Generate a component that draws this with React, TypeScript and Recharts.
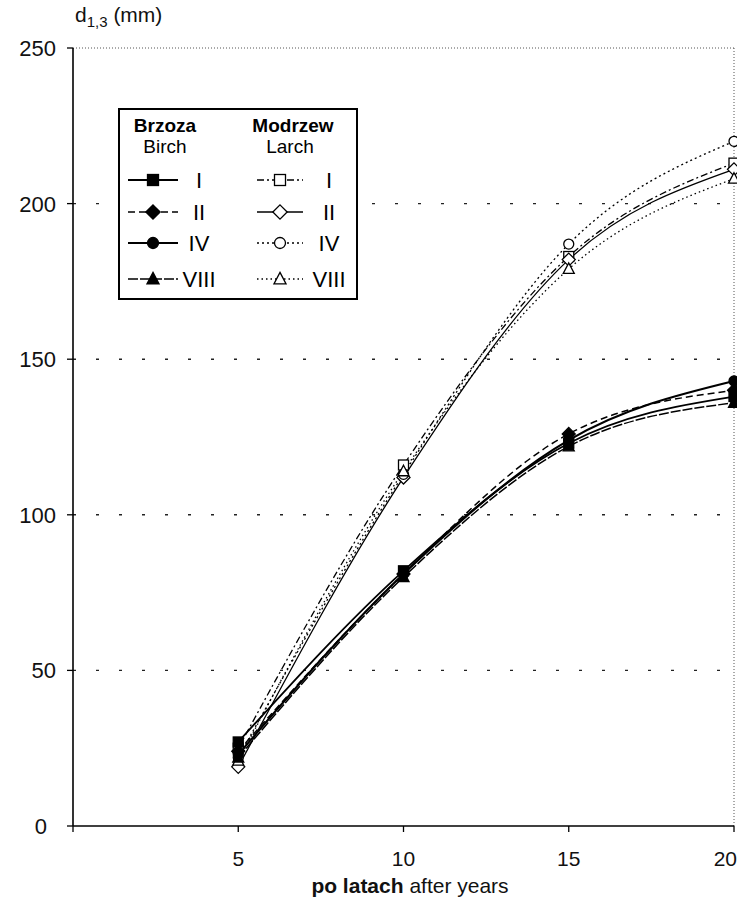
import React from 'react';
import {
  LineChart, Line, XAxis, YAxis, ReferenceLine, Legend,
} from 'recharts';

// d1,3 (mm) after years — birch vs larch, four variants each
const years = [5, 10, 15, 20];
const birchI = [27, 82, 123, 138];
const birchII = [24, 81, 126, 140];
const birchIV = [23, 81, 124, 143];
const birchVIII = [22, 80, 122, 136];
const larchI = [25, 116, 183, 213];
const larchII = [19, 112, 182, 211];
const larchIV = [22, 113, 187, 220];
const larchVIII = [21, 114, 179, 208];

const variantLabels = ['I', 'II', 'IV', 'VIII'];
const yTicks = [0, 50, 100, 150, 200, 250];
const xTicks = [0, 5, 10, 15, 20];
const gridValues = [50, 100, 150, 200];

const FONT = '"Liberation Sans Narrow", "Liberation Sans", Arial, sans-serif';

type Shape = 'square' | 'diamond' | 'circle' | 'triangle';

const shapes: Shape[] = ['square', 'diamond', 'circle', 'triangle'];

const birchStyle = [
  { dash: undefined, width: 1.8 },
  { dash: '7 4', width: 1.5 },
  { dash: undefined, width: 2.2 },
  { dash: '10 2', width: 1.5 },
];
const larchStyle = [
  { dash: '7 3 2 3', width: 1.3 },
  { dash: undefined, width: 1.3 },
  { dash: '2 3', width: 1.3 },
  { dash: '1.5 3', width: 1.3 },
];

const data = years.map((year, i) => ({
  year,
  bI: birchI[i], bII: birchII[i], bIV: birchIV[i], bVIII: birchVIII[i],
  lI: larchI[i], lII: larchII[i], lIV: larchIV[i], lVIII: larchVIII[i],
}));

const birchKeys = ['bI', 'bII', 'bIV', 'bVIII'];
const larchKeys = ['lI', 'lII', 'lIV', 'lVIII'];

function Marker({ cx, cy, shape, filled, size = 10 }: { cx: number; cy: number; shape: Shape; filled: boolean; size?: number }) {
  const fill = filled ? '#000' : '#fff';
  const common = { fill, stroke: '#000', strokeWidth: 1.3 };
  const s = size;
  if (shape === 'square') {
    return <rect x={cx - s / 2} y={cy - s / 2} width={s} height={s} {...common} />;
  }
  if (shape === 'diamond') {
    const d = s * 0.65;
    return <polygon points={`${cx},${cy - d} ${cx + d},${cy} ${cx},${cy + d} ${cx - d},${cy}`} {...common} />;
  }
  if (shape === 'circle') {
    return <circle cx={cx} cy={cy} r={s / 2} {...common} />;
  }
  return (
    <polygon
      points={`${cx},${cy - s * 0.6} ${cx + s * 0.55},${cy + s * 0.45} ${cx - s * 0.55},${cy + s * 0.45}`}
      {...common}
    />
  );
}

const makeDot = (shape: Shape, filled: boolean) => (p: any) => (
  <Marker key={p.key ?? `${p.cx}-${p.cy}`} cx={p.cx} cy={p.cy} shape={shape} filled={filled} />
);

const YTick = ({ y, payload }: any) => (
  <text
    x={payload.value === 0 ? 47 : 56}
    y={y}
    dy={8}
    textAnchor="end"
    fontFamily={FONT}
    fontSize={22}
    fill="#111"
  >
    {payload.value}
  </text>
);

// last label sits flush against the right edge, as in the scan
const XTick = ({ x, payload }: any) => {
  if (payload.value === 0) return null;
  const last = payload.value === 20;
  return (
    <text
      x={last ? 737 : x}
      y={866}
      textAnchor={last ? 'end' : 'middle'}
      fontFamily={FONT}
      fontSize={21}
      fill="#111"
    >
      {payload.value}
    </text>
  );
};

const rowY = [72, 104, 135, 171];

const LegendBox = () => (
  <svg width={240} height={192} style={{ display: 'block' }}>
    <rect x={1} y={1} width={238} height={190} fill="#fff" stroke="#000" strokeWidth={2} />
    <g fontFamily={FONT} fill="#000" textAnchor="middle" fontSize={19}>
      <text x={47} y={24} fontWeight="bold">Brzoza</text>
      <text x={47} y={45}>Birch</text>
      <text x={175} y={24} fontWeight="bold">Modrzew</text>
      <text x={172} y={45}>Larch</text>
    </g>
    {variantLabels.map((label, i) => (
      <g key={label}>
        <line x1={10} x2={60} y1={rowY[i]} y2={rowY[i]} stroke="#000"
          strokeWidth={birchStyle[i].width} strokeDasharray={birchStyle[i].dash} />
        <Marker cx={35} cy={rowY[i]} shape={shapes[i]} filled size={11} />
        <text x={81} y={rowY[i] + 8} fontFamily={FONT} fontSize={22} textAnchor="middle">{label}</text>
        <line x1={139} x2={185} y1={rowY[i]} y2={rowY[i]} stroke="#000"
          strokeWidth={larchStyle[i].width} strokeDasharray={larchStyle[i].dash} />
        <Marker cx={162} cy={rowY[i]} shape={shapes[i]} filled={false} size={11} />
        <text x={211} y={rowY[i] + 8} fontFamily={FONT} fontSize={22} textAnchor="middle">{label}</text>
      </g>
    ))}
  </svg>
);

const XLabel = () => (
  <text x={410} y={893} textAnchor="middle" fontFamily={FONT} fontSize={21} fill="#111">
    <tspan fontWeight="bold">po latach</tspan>
    <tspan> after years</tspan>
  </text>
);

const YLabel = () => (
  <text x={75} y={22} fontFamily={FONT} fontSize={21} fill="#111">
    d<tspan fontSize={15} dy={5}>1,3</tspan>
    <tspan dy={-5}> (mm)</tspan>
  </text>
);

export default function App() {
  return (
    <div style={{ position: 'absolute', left: 0, top: 0, width: 737, height: 899, background: '#fff', overflow: 'hidden' }}>
      <LineChart width={737} height={899} data={data} margin={{ top: 48, right: 3, bottom: 0, left: 0 }}>
        <XAxis
          dataKey="year"
          type="number"
          domain={[0, 20]}
          ticks={xTicks}
          interval={0}
          tickSize={6}
          height={73}
          tick={<XTick />}
          axisLine={{ stroke: '#000', strokeWidth: 1.6 }}
          tickLine={{ stroke: '#000', strokeWidth: 1.3 }}
          label={<XLabel />}
        />
        <YAxis
          type="number"
          domain={[0, 250]}
          ticks={yTicks}
          interval={0}
          tickSize={6}
          width={73}
          tick={<YTick />}
          axisLine={{ stroke: '#000', strokeWidth: 1.6 }}
          tickLine={{ stroke: '#000', strokeWidth: 1.3 }}
          label={<YLabel />}
        />
        {gridValues.map((v) => (
          <ReferenceLine key={v} y={v} stroke="#222" strokeWidth={1.4} strokeDasharray="3 20" />
        ))}
        <ReferenceLine y={250} stroke="#555" strokeWidth={1} strokeDasharray="1 2" />
        <ReferenceLine x={20} stroke="#555" strokeWidth={1} strokeDasharray="1 2" />
        {larchKeys.map((k, i) => (
          <Line
            key={k}
            dataKey={k}
            type="monotone"
            stroke="#000"
            strokeWidth={larchStyle[i].width}
            strokeDasharray={larchStyle[i].dash}
            dot={makeDot(shapes[i], false)}
            isAnimationActive={false}
          />
        ))}
        {birchKeys.map((k, i) => (
          <Line
            key={k}
            dataKey={k}
            type="monotone"
            stroke="#000"
            strokeWidth={birchStyle[i].width}
            strokeDasharray={birchStyle[i].dash}
            dot={makeDot(shapes[i], true)}
            isAnimationActive={false}
          />
        ))}
        <Legend
          layout="horizontal"
          align="center"
          verticalAlign="middle"
          content={<LegendBox />}
          wrapperStyle={{ left: 118, top: 108, width: 240, height: 192 }}
        />
      </LineChart>
    </div>
  );
}
